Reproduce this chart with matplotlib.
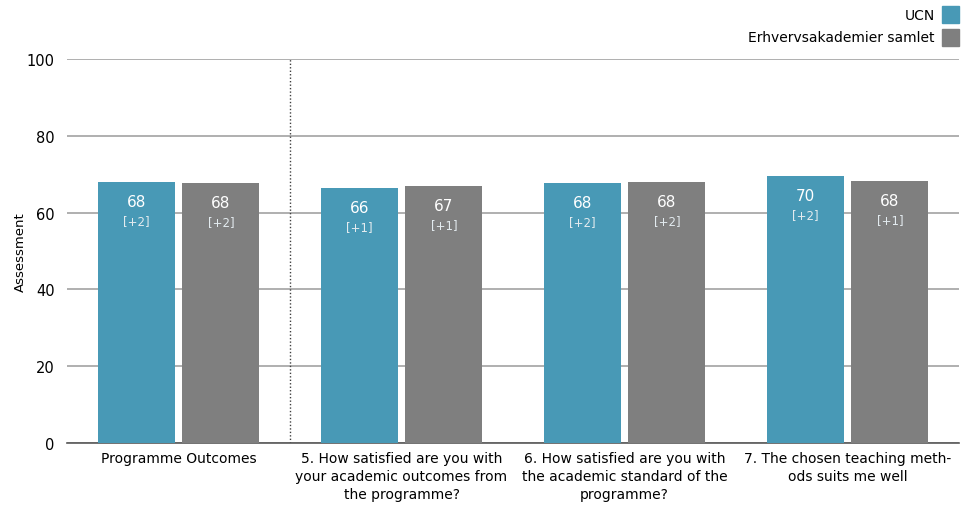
import matplotlib
matplotlib.use("Agg")
import matplotlib.pyplot as plt
from matplotlib.patches import Rectangle
import numpy as np

categories = ["Programme Outcomes",
              "5. How satisfied are you with\nyour academic outcomes from\nthe programme?",
              "6. How satisfied are you with\nthe academic standard of the\nprogramme?",
              "7. The chosen teaching meth-\nods suits me well"]
series_names = ["UCN", "Erhvervsakademier samlet"]
ucn_values = [68.0, 66.4, 67.7, 69.5]
total_values = [67.7, 66.9, 68.0, 68.2]
ucn_labels = ["68", "66", "68", "70"]
total_labels = ["68", "67", "68", "68"]
ucn_changes = ["[+2]", "[+1]", "[+2]", "[+2]"]
total_changes = ["[+2]", "[+1]", "[+2]", "[+1]"]
yticks = [0, 20, 40, 60, 80, 100]

teal = "#4899b6"
gray = "#7f7f7f"

plt.rcParams['font.family'] = ['DejaVu Sans']
fig = plt.figure(figsize=(9.66, 5.06), dpi=100)
ax = fig.add_axes([67/966, 1-444/506, (959-67)/966, 384/506])

x = np.arange(len(categories))
w = 0.345
off = 0.19
b1 = ax.bar(x - off, ucn_values, w, color=teal, zorder=3)
b2 = ax.bar(x + off, total_values, w, color=gray, zorder=3)

for bars, labs, chs in ((b1, ucn_labels, ucn_changes), (b2, total_labels, total_changes)):
    for rect, lab, ch in zip(bars, labs, chs):
        cx = rect.get_x() + rect.get_width()/2
        top = rect.get_height()
        ax.annotate(lab, (cx, top), xytext=(0, -14), textcoords="offset points",
                    ha="center", va="center", color="white", fontsize=11, zorder=4)
        ax.annotate(ch, (cx, top), xytext=(0, -28), textcoords="offset points",
                    ha="center", va="center", color="#e3ebef", fontsize=8.5, zorder=4)

ax.set_xlim(-0.5, len(categories) - 0.5)
ax.set_ylim(0, 100)
ax.set_yticks(yticks)
ax.yaxis.grid(True, color="#9a9a9a", linewidth=1.1, zorder=0)
ax.set_axisbelow(True)
for s in ["top", "right", "left"]:
    ax.spines[s].set_visible(False)
ax.spines["bottom"].set_color("#595959")
ax.spines["bottom"].set_linewidth(1.2)
ax.tick_params(axis="y", length=0, labelsize=10.5, pad=9)
ax.tick_params(axis="x", length=0, labelsize=10, pad=6)
ax.set_xticks(x)
ax.set_xticklabels(categories, linespacing=1.35)
ax.set_ylabel("Assessment", fontsize=9.5)
ax.yaxis.set_label_coords(-40/892, 0.5)

ax.axvline(0.5, color="#404040", linestyle=(0, (1, 1.5)), linewidth=1.0, zorder=2)

# legend
for i, (name, col) in enumerate(zip(series_names, [teal, gray])):
    y0 = 1 - (7 + i*23)/506
    fig.patches.append(Rectangle((942/966, y0 - 17/506), 17/966, 17/506,
                                 transform=fig.transFigure, color=col, figure=fig))
    fig.text(935/966, y0 - 8.5/506, name, ha="right", va="center", fontsize=10)

fig.savefig("out.png", dpi=100)
